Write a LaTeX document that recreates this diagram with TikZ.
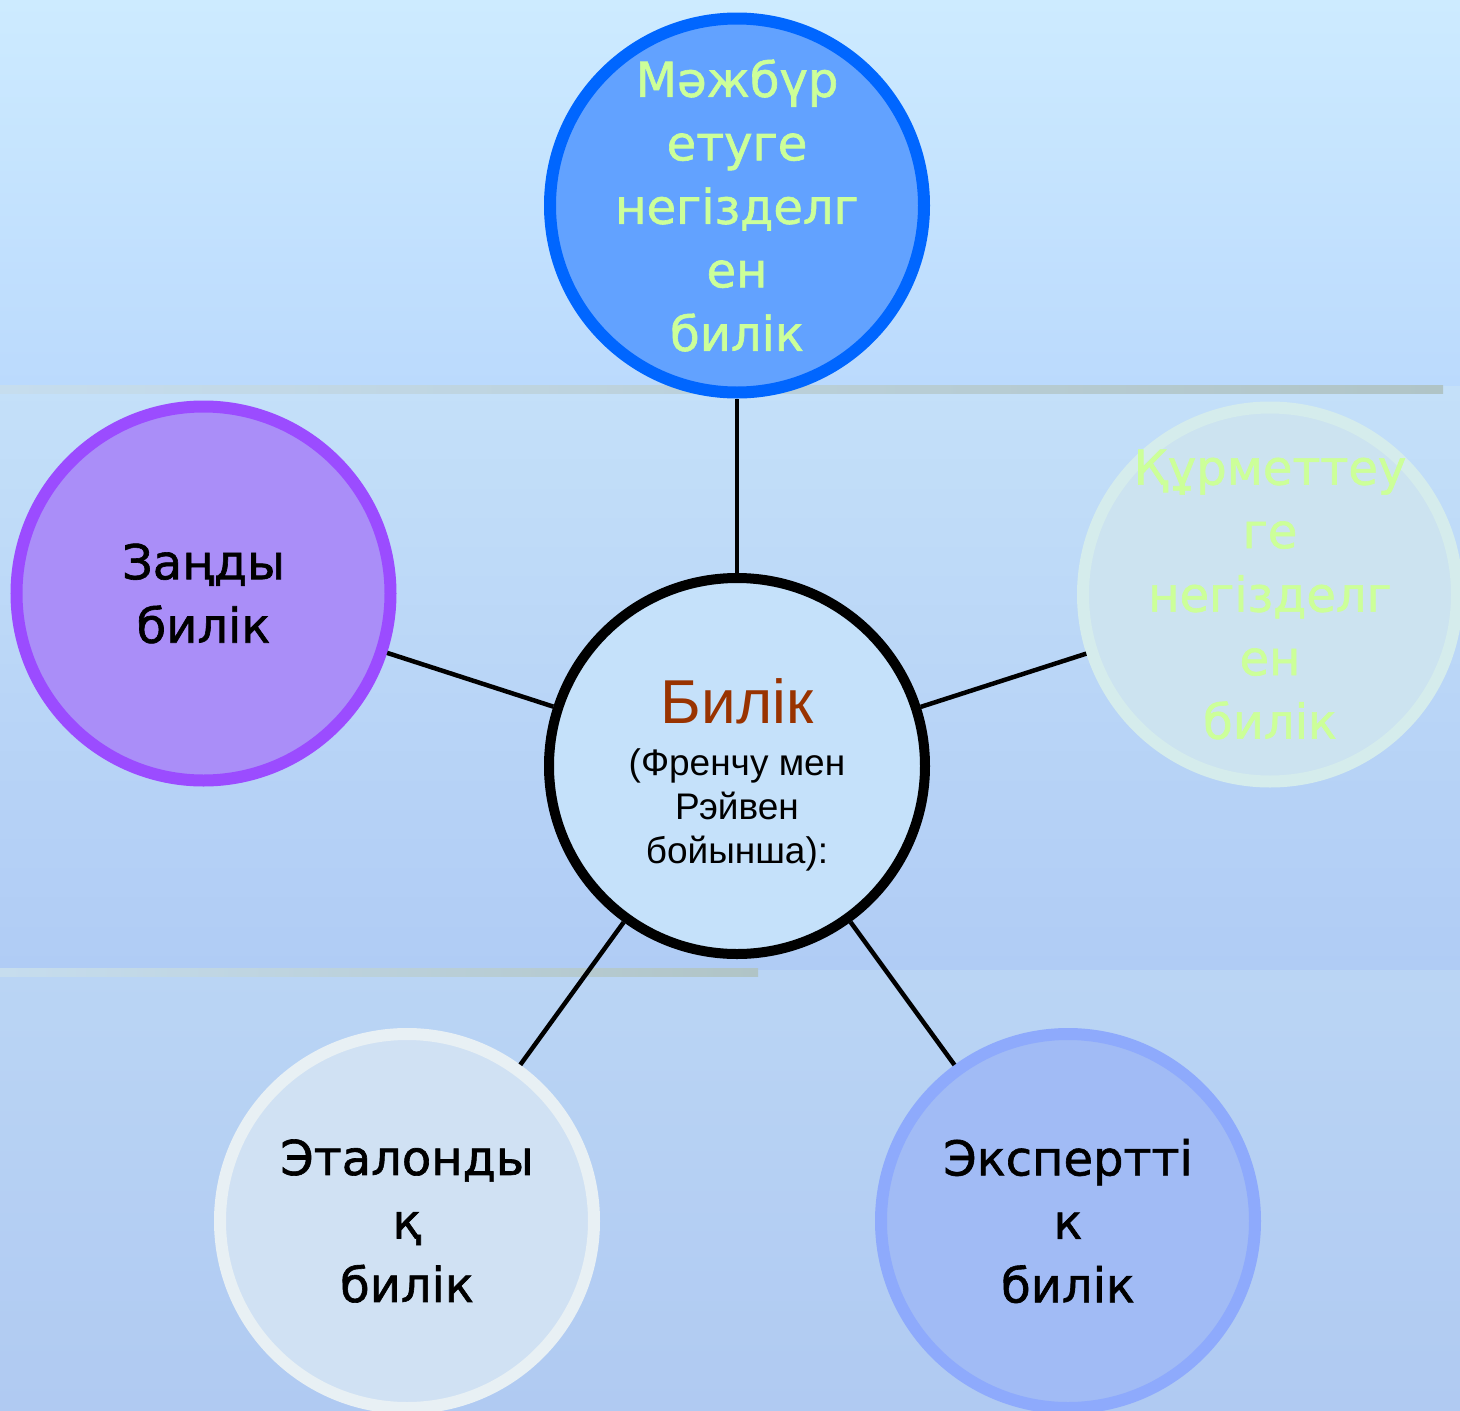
\documentclass[tikz,border=0pt]{standalone}
\usepackage{fontspec}
\setmainfont{DejaVu Sans}[FakeBold=1.3]
\newfontfamily\arialf{Liberation Sans}
\definecolor{bgA}{HTML}{CDEBFF}
\definecolor{bgB}{HTML}{BBDAFD}
\definecolor{bgC}{HTML}{C4E0F9}
\definecolor{bgD}{HTML}{B0CCF5}
\definecolor{bgE}{HTML}{BAD5F4}
\definecolor{bgF}{HTML}{B0CAF2}
\definecolor{bandL}{HTML}{C6DDEE}
\definecolor{bandR}{HTML}{B0C4C6}
\definecolor{topFill}{HTML}{62A2FF}
\definecolor{topLine}{HTML}{0066FF}
\definecolor{leftFill}{HTML}{AA8EF8}
\definecolor{leftLine}{HTML}{9B4CFF}
\definecolor{rightFill}{HTML}{CCE3F0}
\definecolor{rightLine}{HTML}{D5ECEC}
\definecolor{blFill}{HTML}{D0E1F3}
\definecolor{blLine}{HTML}{E8F0F4}
\definecolor{brFill}{HTML}{A1BBF5}
\definecolor{brLine}{HTML}{8EAAFC}
\definecolor{cFill}{HTML}{C5E1FA}
\definecolor{lime}{HTML}{CCFF99}
\definecolor{brownT}{HTML}{993300}
\tikzset{
  disc/.style={circle, inner sep=0pt, minimum size=374pt, line width=12pt},
  hub/.style={circle, inner sep=0pt, minimum size=376pt, line width=10pt, draw=black, fill=cFill},
  txt/.style={align=center, inner sep=0pt, font=\fontsize{48}{63.5}\selectfont},
  conn/.style={draw=black, line width=4.5pt}
}
\begin{document}
\begin{tikzpicture}[x=1pt,y=-1pt]
\useasboundingbox (0,0) rectangle (1460,1411);
% background
\shade[top color=bgA, bottom color=bgB] (0,0) rectangle (1460,386);
\shade[top color=bgC, bottom color=bgD] (0,386) rectangle (1460,970);
\shade[top color=bgE, bottom color=bgF] (0,970) rectangle (1460,1411);
\shade[left color=bandL, right color=bandR] (0,385) rectangle (1443,393);
\shade[left color=bandL, right color=bandR] (0,968) rectangle (758,976);
% circles
\node[hub] (c0) at (737,766) {};
\node[disc, draw=topLine, fill=topFill] (c1) at (737,205.5) {};
\node[disc, draw=leftLine, fill=leftFill] (c2) at (203.5,593.5) {};
\node[disc, draw=rightLine, fill=rightFill] (c3) at (1270,594.5) {};
\node[disc, draw=blLine, fill=blFill] (c4) at (407,1221) {};
\node[disc, draw=brLine, fill=brFill] (c5) at (1068,1221) {};
% connectors
\draw[conn] (c0) -- (c1);
\draw[conn] (c0) -- (c2);
\draw[conn] (c0) -- (c3);
\draw[conn] (c0) -- (c4);
\draw[conn] (c0) -- (c5);
% texts
\node[txt, text=lime] (t1) at (737,205.5) {Мәжбүр\\етуге\\негізделг\\ен\\билік};
\node[txt, text=black] (t2) at (203.5,593.5) {Заңды\\билік};
\node[txt, text=lime] (t3) at (1270,594.5) {Құрметтеу\\ге\\негізделг\\ен\\билік};
\node[txt, text=black] (t4) at (407,1221) {Эталонды\\қ\\билік};
\node[txt, text=black] (t5) at (1068,1221) {Экспертті\\к\\билік};
\node[anchor=base, inner sep=0pt, text=brownT, font=\arialf\fontsize{62}{62}\selectfont] (ct) at (737,723) {Билік};
\node[anchor=base, align=center, inner sep=0pt, font=\arialf\fontsize{37}{44}\selectfont] (cs) at (737,863) {(Френчу мен\\Рэйвен\\бойынша):};
\end{tikzpicture}
\end{document}
